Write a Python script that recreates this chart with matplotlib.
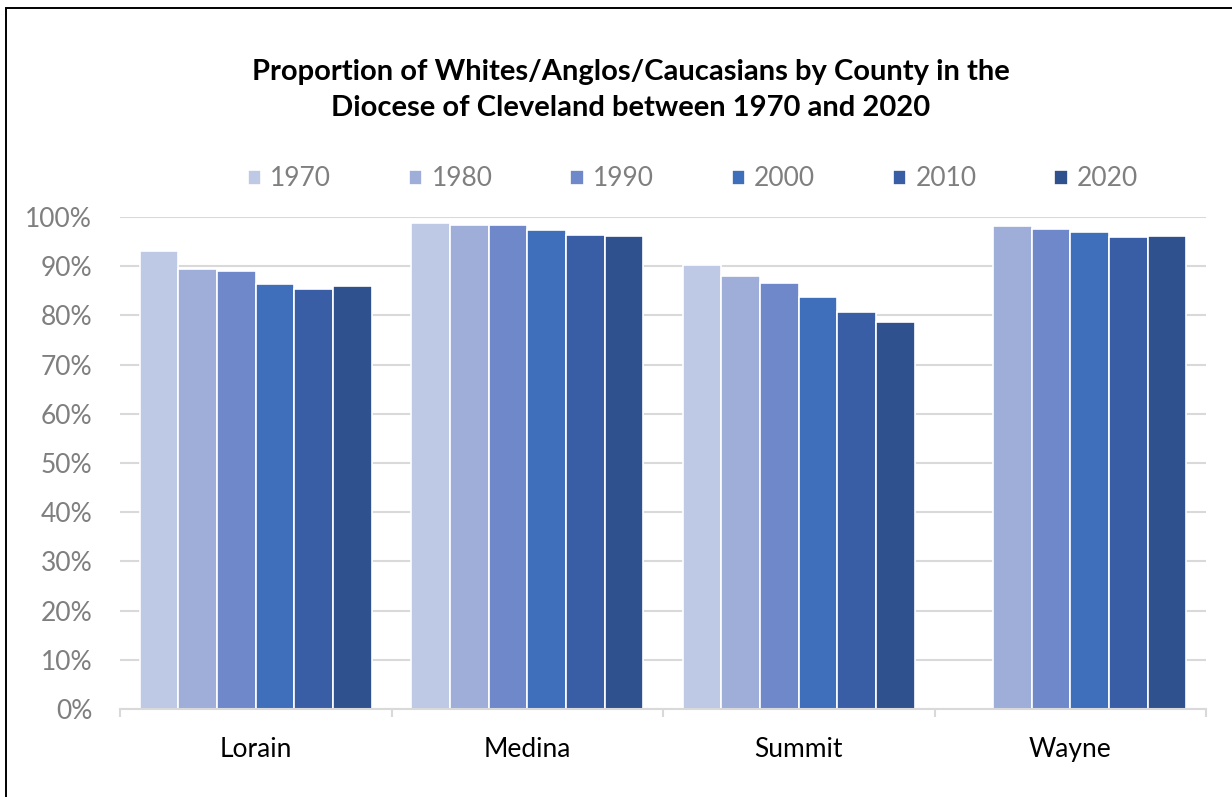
import numpy as np
import matplotlib
matplotlib.use("Agg")
import matplotlib.pyplot as plt
from matplotlib.patches import Rectangle
from matplotlib.ticker import PercentFormatter, FixedLocator

# values (percent white)
counties = ["Lorain", "Medina", "Summit", "Wayne"]
years = ["1970", "1980", "1990", "2000", "2010", "2020"]
share_1970 = [93.0, 98.7, 90.2, np.nan]
share_1980 = [89.5, 98.4, 88.1, 98.1]
share_1990 = [89.0, 98.3, 86.6, 97.5]
share_2000 = [86.4, 97.4, 83.8, 96.9]
share_2010 = [85.4, 96.4, 80.7, 96.0]
share_2020 = [86.0, 96.2, 78.6, 96.2]
colors = ["#bec9e5", "#9faed8", "#6e88c9", "#3f6ebb", "#3a5ea5", "#2f518d"]

series = [share_1970, share_1980, share_1990, share_2000, share_2010, share_2020]

plt.rcParams["font.family"] = ["Lato", "DejaVu Sans"]

fig = plt.figure(figsize=(12.32, 7.97), dpi=100)
ax = fig.add_axes([120 / 1232, 1 - 709 / 797, (1206 - 120) / 1232, (709 - 217) / 797])

x = np.arange(len(counties))
w = 1 / 7.02
for k, vals in enumerate(series):
    ax.bar(x + (k - 2.5) * w, vals, width=w, color=colors[k],
           edgecolor="white", linewidth=1.2, label=years[k], zorder=2)

ax.set_xlim(-0.5, len(counties) - 0.5)
ax.set_ylim(0, 100)
ax.set_yticks(np.arange(0, 101, 10))
ax.yaxis.set_major_formatter(PercentFormatter(decimals=0))
ax.grid(axis="y", color="#d9d9d9", linewidth=1.5, zorder=0)
ax.set_axisbelow(True)

for s in ["top", "right", "left"]:
    ax.spines[s].set_visible(False)
ax.spines["bottom"].set_color("#d9d9d9")
ax.spines["bottom"].set_linewidth(1.5)

ax.set_xticks(x)
ax.set_xticklabels(counties)
ax.xaxis.set_minor_locator(FixedLocator(np.arange(-0.5, len(counties), 1.0)))
ax.tick_params(axis="x", which="major", length=0, pad=20, labelsize=19, labelcolor="#000000")
ax.tick_params(axis="x", which="minor", length=6, width=1.5, color="#d9d9d9")
ax.tick_params(axis="y", length=0, pad=20, labelsize=19, labelcolor="#7f7f7f")

fig.text(631 / 1232, 1 - 72 / 797, "Proportion of Whites/Anglos/Caucasians by County in the",
         ha="center", va="center", fontsize=21, fontweight="bold")
fig.text(631 / 1232, 1 - 108 / 797, "Diocese of Cleveland between 1970 and 2020",
         ha="center", va="center", fontsize=21, fontweight="bold")

leg = fig.legend(loc="center", bbox_to_anchor=(693 / 1232, 1 - 179 / 797), ncol=6,
                 frameon=False, fontsize=19, handlelength=0.5, handleheight=0.5,
                 handletextpad=0.35, columnspacing=2.95, borderpad=0)
for t in leg.get_texts():
    t.set_color("#7f7f7f")

fig.add_artist(Rectangle((6 / 1232, -0.1), 1.2, 1.1 - 8 / 797, transform=fig.transFigure,
                         fill=False, edgecolor="black", linewidth=1.4))

fig.savefig("out.png", dpi=100)
